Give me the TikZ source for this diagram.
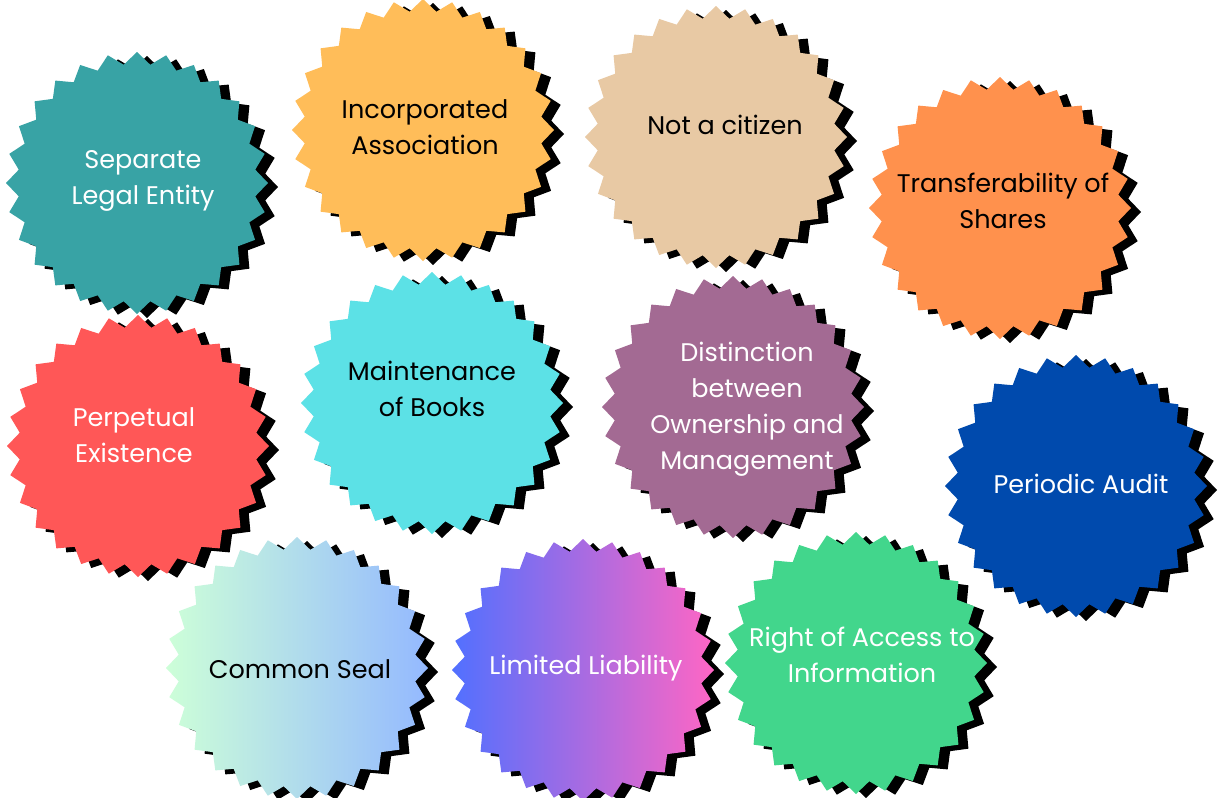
\documentclass[tikz,border=0pt]{standalone}
\usepackage{fontspec}
\setmainfont{Poppins}
\definecolor{cteal}{HTML}{38A3A5}
\definecolor{cyell}{HTML}{FFBD59}
\definecolor{cbeige}{HTML}{E8C9A4}
\definecolor{corange}{HTML}{FF914D}
\definecolor{cred}{HTML}{FF5757}
\definecolor{ccyan}{HTML}{5CE1E6}
\definecolor{cpurple}{HTML}{A36A93}
\definecolor{cblue}{HTML}{004AAD}
\definecolor{cgreen}{HTML}{42D68C}
\definecolor{gsealL}{HTML}{CDFFD8}
\definecolor{gsealR}{HTML}{94B9FF}
\definecolor{glimL}{HTML}{5170FF}
\definecolor{glimR}{HTML}{FF66C4}
\newcommand\mkburst[3]{%
  \fill[black, shift={(#1+10,#2+4)}] (131,0) \foreach \k [evaluate=\k as \rr using {mod(\k,2)==0 ? 131 : 119}] in {1,...,55} { -- (\k*6.428571:\rr) } -- cycle;
  \path[#3, shift={(#1,#2)}] (131,0) \foreach \k [evaluate=\k as \rr using {mod(\k,2)==0 ? 131 : 119}] in {1,...,55} { -- (\k*6.428571:\rr) } -- cycle;
}
\tikzset{lbl/.style={align=center, inner sep=0pt, font=\fontsize{25.5}{36}\selectfont}}
\begin{document}
\begin{tikzpicture}[x=1pt,y=-1pt]
\useasboundingbox[fill=white] (0,0) rectangle (1219,798);
\mkburst{137}{183}{fill=cteal}
\node[lbl,text=white] (sle) at (143,181) {Separate\\Legal Entity};
\mkburst{423}{130}{fill=cyell}
\node[lbl,text=black] (inc) at (425,127) {Incorporated\\Association};
\mkburst{716}{137}{fill=cbeige}
\node[lbl,text=black] (cit) at (725,125) {Not a citizen};
\mkburst{1000}{208}{fill=corange}
\node[lbl,text=black] (tra) at (1003,201) {Transferability of\\Shares};
\mkburst{138}{446}{fill=cred}
\node[lbl,text=white] (per) at (134,435) {Perpetual\\Existence};
\mkburst{432}{403}{fill=ccyan}
\node[lbl,text=black] (mai) at (432,389) {Maintenance\\of Books};
\mkburst{733}{407}{fill=cpurple}
\node[lbl,text=white] (dis) at (747,409) {Distinction\\between\\Ownership and\\Management};
\mkburst{1076}{486}{fill=cblue}
\node[lbl,text=white] (aud) at (1081,484) {Periodic Audit};
\mkburst{297}{668}{left color=gsealL, right color=gsealR}
\node[lbl,text=black] (sea) at (300,669) {Common Seal};
\mkburst{583}{670}{left color=glimL, right color=glimR}
\node[lbl,text=white] (lim) at (586,668) {Limited Liability};
\mkburst{856}{663}{fill=cgreen}
\node[lbl,text=white] (acc) at (862,655) {Right of Access to\\Information};
\end{tikzpicture}
\end{document}
